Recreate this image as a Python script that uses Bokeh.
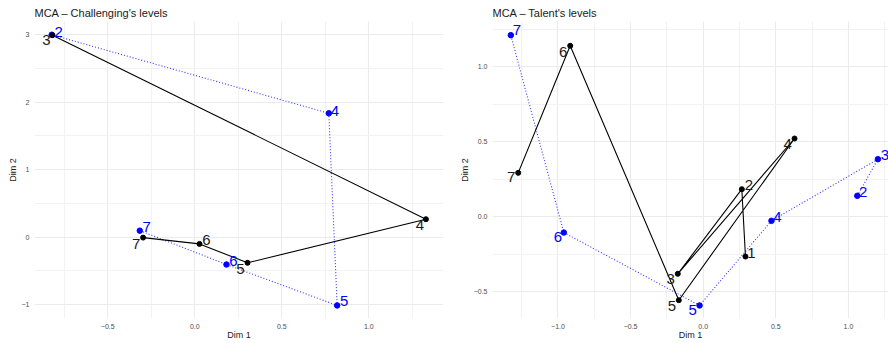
from bokeh.plotting import figure
from bokeh.layouts import row
from bokeh.models import ColumnDataSource, Range1d, FixedTicker, CustomJSTickFormatter
from bokeh.core.properties import value
from bokeh.embed import file_html
from bokeh.resources import INLINE

# Challenging: level coordinates on the first two MCA dimensions
chall_a_levels = ["3", "4", "5", "6", "7"]
chall_a_dim1 = [-0.818, 1.328, 0.303, 0.027, -0.297]
chall_a_dim2 = [2.99, 0.266, -0.379, -0.099, -0.006]

chall_b_levels = ["2", "4", "5", "6", "7"]
chall_b_dim1 = [-0.822, 0.770, 0.818, 0.182, -0.316]
chall_b_dim2 = [2.996, 1.834, -1.01, -0.404, 0.097]

# Talent: level coordinates on the first two MCA dimensions
talent_a_levels = ["1", "2", "3", "4", "5", "6", "7"]
talent_a_dim1 = [0.291, 0.266, -0.175, 0.629, -0.168, -0.916, -1.274]
talent_a_dim2 = [-0.267, 0.182, -0.382, 0.52, -0.558, 1.138, 0.291]

talent_b_levels = ["2", "3", "4", "5", "6", "7"]
talent_b_dim1 = [1.061, 1.203, 0.470, -0.025, -0.960, -1.325]
talent_b_dim2 = [0.138, 0.382, -0.029, -0.593, -0.107, 1.209]

# Label nudges in screen pixels (dx right, dy down)
chall_a_dx = [-6, -6, -7, 7, -7]
chall_a_dy = [4.5, 6, 6, -4, 6]
chall_b_dx = [7, 6, 7, 7, 7]
chall_b_dy = [-3, -2, -4, -4, -4]
talent_a_dx = [6, 7, -7, -7, -7, -7, -7]
talent_a_dy = [-4, -4, 5, 5, 6, 6, 4]
talent_b_dx = [6, 7, 6, -7, -6, 6]
talent_b_dy = [-4, -4, -4, 5, 4, -5]

FONT = "Liberation Sans"
GRID = "#EBEBEB"


def fmt(decimals):
    return CustomJSTickFormatter(code=f"""
        const s = Math.abs(tick).toFixed({decimals});
        return (tick < -1e-9 ? "\\u2212" : "") + s;
    """)


def panel(title, a, b, xr, yr, xt, yt, ydec, width, border_left, border_right):
    p = figure(width=width, height=343, output_backend="svg", toolbar_location=None,
               x_range=Range1d(*xr), y_range=Range1d(*yr),
               min_border_left=border_left, min_border_right=border_right,
               min_border_top=21, min_border_bottom=25)
    p.outline_line_color = None
    p.background_fill_color = "white"
    p.border_fill_color = "white"

    p.title.text = title
    p.title.text_font = FONT
    p.title.text_font_size = "11px"
    p.title.text_font_style = "normal"
    p.title.text_color = "#1A1A1A"
    p.title.standoff = 5
    p.title.offset = 0

    p.xaxis.ticker = FixedTicker(ticks=xt[0], minor_ticks=xt[1])
    p.yaxis.ticker = FixedTicker(ticks=yt[0], minor_ticks=yt[1])
    p.xaxis.formatter = fmt(1)
    p.yaxis.formatter = fmt(ydec)
    for ax in (p.xaxis, p.yaxis):
        ax.axis_line_color = None
        ax.major_tick_line_color = None
        ax.minor_tick_line_color = None
        ax.major_tick_out = 0
        ax.major_tick_in = 0
        ax.minor_tick_out = 0
        ax.minor_tick_in = 0
        ax.major_label_text_font = FONT
        ax.major_label_text_font_size = "7px"
        ax.major_label_text_color = "#4D4D4D"
        ax.axis_label_text_font = FONT
        ax.axis_label_text_font_size = "9px"
        ax.axis_label_text_font_style = "normal"
        ax.axis_label_text_color = "#1A1A1A"
    p.xaxis.axis_label = "Dim 1"
    p.yaxis.axis_label = "Dim 2"
    p.xaxis.major_label_standoff = 5
    p.yaxis.major_label_standoff = 5
    p.xaxis.axis_label_standoff = -2
    p.yaxis.axis_label_standoff = 1

    for g in (p.xgrid, p.ygrid):
        g.grid_line_color = GRID
        g.grid_line_width = 1.1
        g.minor_grid_line_color = "#F1F1F1"
        g.minor_grid_line_width = 0.9

    (la, xa, ya, dxa, dya), (lb, xb, yb, dxb, dyb) = a, b
    src_a = ColumnDataSource(dict(x=xa, y=ya, lab=la, dx=dxa, dy=dya))
    src_b = ColumnDataSource(dict(x=xb, y=yb, lab=lb, dx=dxb, dy=dyb))

    p.line("x", "y", source=src_b, line_color="blue", line_width=1.1,
           line_dash="1 2", line_alpha=0.8)
    p.line("x", "y", source=src_a, line_color="black", line_width=1.1)
    p.scatter("x", "y", source=src_b, size=5.5, color="blue")
    p.scatter("x", "y", source=src_a, size=5, color="black")
    p.text("x", "y", text="lab", source=src_b, x_offset="dx", y_offset="dy",
           text_font=value(FONT), text_font_size="15px", text_color="blue",
           text_align="center", text_baseline="middle")
    p.text("x", "y", text="lab", source=src_a, x_offset="dx", y_offset="dy",
           text_font=value(FONT), text_font_size="15px", text_color="#1A1A1A",
           text_align="center", text_baseline="middle")
    return p


left = panel(
    "MCA \u2013 Challenging's levels",
    (chall_a_levels, chall_a_dim1, chall_a_dim2, chall_a_dx, chall_a_dy),
    (chall_b_levels, chall_b_dim1, chall_b_dim2, chall_b_dx, chall_b_dy),
    (-0.921, 1.429), (-1.203, 3.192),
    ([-0.5, 0.0, 0.5, 1.0], [-0.75, -0.25, 0.25, 0.75, 1.25]),
    ([-1, 0, 1, 2, 3], [-0.5, 0.5, 1.5, 2.5]),
    0, 444, 34, 1,
)

right = panel(
    "MCA \u2013 Talent's levels",
    (talent_a_levels, talent_a_dim1, talent_a_dim2, talent_a_dx, talent_a_dy),
    (talent_b_levels, talent_b_dim1, talent_b_dim2, talent_b_dx, talent_b_dy),
    (-1.451, 1.276), (-0.68, 1.30),
    ([-1.0, -0.5, 0.0, 0.5, 1.0], [-1.25, -0.75, -0.25, 0.25, 0.75, 1.25]),
    ([-0.5, 0.0, 0.5, 1.0], [-0.25, 0.25, 0.75, 1.25]),
    1, 444, 48, 0,
)

layout = row(left, right, spacing=0)
open("out.html", "w").write(file_html(layout, INLINE))
